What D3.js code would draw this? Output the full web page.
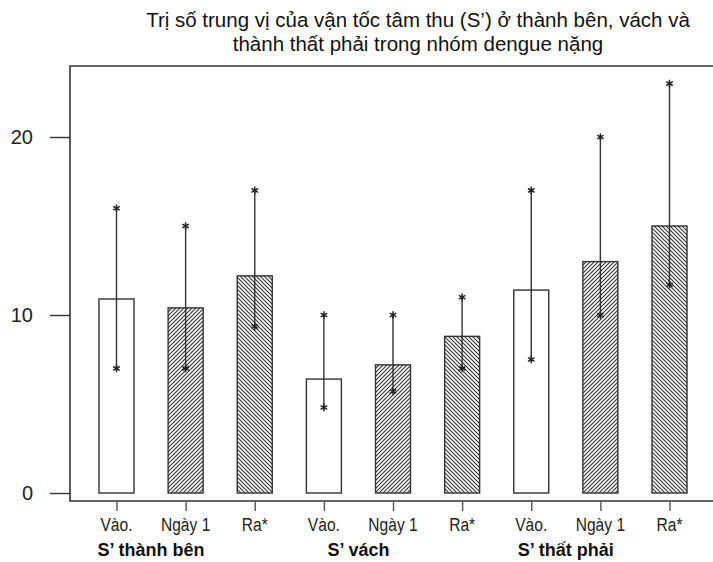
<!DOCTYPE html>
<html>
<head>
<meta charset="utf-8">
<script src="https://cdn.jsdelivr.net/npm/d3@7"></script>
<style>
  body { margin: 0; background: #fff; }
  svg { display: block; }
</style>
</head>
<body>
<div id="chart"></div>
<script>
// data
const titleLines = ["Trị số trung vị của vận tốc tâm thu (S’) ở thành bên, vách và", "thành thất phải trong nhóm dengue nặng"];
const barLabels = ["Vào.", "Ngày 1", "Ra*", "Vào.", "Ngày 1", "Ra*", "Vào.", "Ngày 1", "Ra*"];
const groupLabels = ["S’ thành bên", "S’ vách", "S’ thất phải"];
const medians = [10.9, 10.4, 12.2, 6.4, 7.2, 8.8, 11.4, 13.0, 15.0];
const lowerValues = [7, 7, 9.35, 4.8, 5.7, 7, 7.5, 10, 11.7];
const upperValues = [16, 15, 17, 10, 10, 11, 17, 20, 23];
const fills = ["none", "hatchA", "hatchB", "none", "hatchA", "hatchB", "none", "hatchA", "hatchB"];
const yTicks = [0, 10, 20];

const width = 713, height = 562;
const frameLeft = 70, frameTop = 66, frameRight = 713, axisY = 501;

const svg = d3.select("#chart").append("svg")
    .attr("width", width)
    .attr("height", height);

// hatch patterns
const defs = svg.append("defs");
function hatch(id, dir) {
    const p = defs.append("pattern")
        .attr("id", id)
        .attr("patternUnits", "userSpaceOnUse")
        .attr("width", 4).attr("height", 4);
    p.append("rect").attr("width", 4).attr("height", 4).attr("fill", "#fff");
    const path = dir > 0
        ? "M-1,1 L1,-1 M0,4 L4,0 M3,5 L5,3"
        : "M-1,3 L1,5 M0,0 L4,4 M3,-1 L5,1";
    p.append("path").attr("d", path).attr("stroke", "#333").attr("stroke-width", 1.1);
}
hatch("hatchA", 1);
hatch("hatchB", -1);

const x = d3.scalePoint()
    .domain(d3.range(medians.length))
    .range([116.5, 669.5]);
const barW = 35;

const y = d3.scaleLinear()
    .domain([0, 20])
    .range([493, 137]);

// title
svg.append("g").selectAll("text")
    .data(titleLines)
    .enter().append("text")
    .attr("x", 418)
    .attr("y", (d, i) => 27 + i * 24)
    .attr("text-anchor", "middle")
    .style("font-family", "'Liberation Sans', Arial, sans-serif")
    .style("font-size", "20.5px")
    .attr("fill", "#111")
    .text(d => d);

// frame
svg.append("path")
    .attr("d", `M${frameRight},${frameTop} H${frameLeft} V${axisY} H${frameRight}`)
    .attr("fill", "none")
    .attr("stroke", "#333")
    .attr("stroke-width", 1.6);

// y axis ticks
const yAxis = svg.append("g")
    .attr("transform", `translate(${frameLeft},0)`)
    .call(d3.axisLeft(y).tickValues(yTicks).tickSize(20).tickPadding(17));
yAxis.select(".domain").remove();
yAxis.selectAll("line").attr("stroke", "#333").attr("stroke-width", 1.4);
yAxis.selectAll("text")
    .attr("fill", "#222")
    .style("font-family", "'Liberation Sans', Arial, sans-serif")
    .style("font-size", "20px");

// x axis ticks
const xAxis = svg.append("g")
    .attr("transform", `translate(0,${axisY})`)
    .call(d3.axisBottom(x).tickSize(10).tickFormat(""));
xAxis.select(".domain").remove();
xAxis.selectAll("line").attr("stroke", "#555").attr("stroke-width", 1.4);

// condensed bar labels
svg.append("g").selectAll("text")
    .data(barLabels)
    .enter().append("text")
    .attr("transform", (d, i) => `translate(${x(i)},531) scale(0.82,1)`)
    .attr("text-anchor", "middle")
    .style("font-family", "'Liberation Sans', Arial, sans-serif")
    .style("font-size", "19px")
    .attr("fill", "#222")
    .text(d => d);

// group labels
svg.append("g").selectAll("text")
    .data(groupLabels)
    .enter().append("text")
    .attr("x", (d, i) => (x(i * 3) + x(i * 3 + 1)) / 2)
    .attr("y", 556)
    .attr("text-anchor", "middle")
    .style("font-family", "'Liberation Sans', Arial, sans-serif")
    .style("font-size", "18px")
    .style("font-weight", "bold")
    .attr("fill", "#111")
    .text(d => d);

// bars
svg.append("g").selectAll("rect")
    .data(medians)
    .enter().append("rect")
    .attr("x", (d, i) => x(i) - barW / 2)
    .attr("y", d => y(d))
    .attr("width", barW)
    .attr("height", d => y(0) - y(d))
    .attr("fill", (d, i) => fills[i] === "none" ? "#fff" : `url(#${fills[i]})`)
    .attr("stroke", "#333")
    .attr("stroke-width", 1.4);

// error bars
const err = svg.append("g");
err.selectAll("line")
    .data(medians)
    .enter().append("line")
    .attr("x1", (d, i) => x(i))
    .attr("x2", (d, i) => x(i))
    .attr("y1", (d, i) => y(lowerValues[i]))
    .attr("y2", (d, i) => y(upperValues[i]))
    .attr("stroke", "#333")
    .attr("stroke-width", 1.4);

const star = d3.symbol().type(d3.symbolAsterisk).size(40);
const ends = [];
medians.forEach((d, i) => {
    ends.push({ i: i, v: lowerValues[i] });
    ends.push({ i: i, v: upperValues[i] });
});
err.selectAll("path")
    .data(ends)
    .enter().append("path")
    .attr("d", star)
    .attr("transform", d => `translate(${x(d.i)},${y(d.v)})`)
    .attr("fill", "none")
    .attr("stroke", "#222")
    .attr("stroke-width", 1.5);
</script>
</body>
</html>
